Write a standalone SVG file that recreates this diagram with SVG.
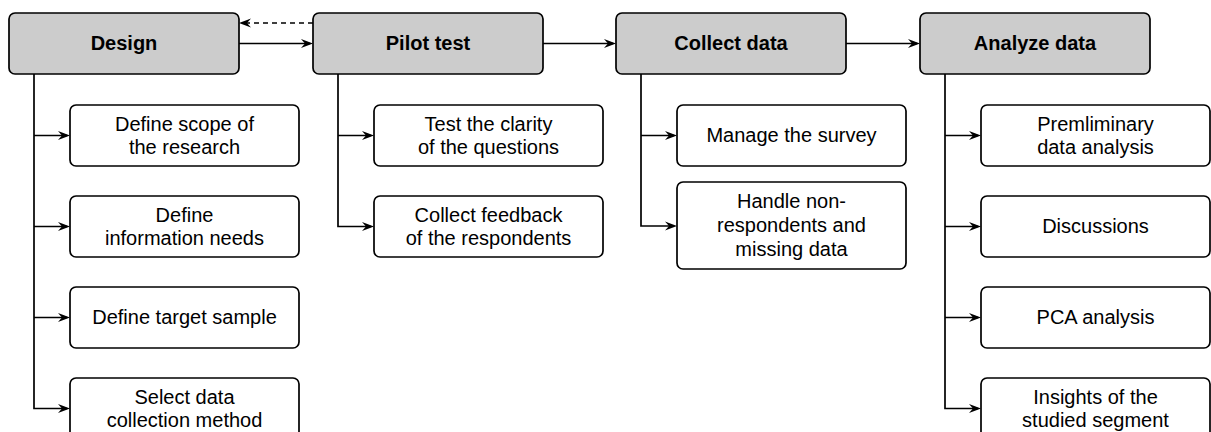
<svg xmlns="http://www.w3.org/2000/svg" width="1211" height="432" viewBox="0 0 1211 432">
<style>
.hdr rect{fill:#cccccc;stroke:#000;stroke-width:1.7}
.hdr text{font-family:"Liberation Sans",Arial,sans-serif;font-size:20px;font-weight:bold;text-anchor:middle;fill:#000}
.sub rect{fill:#fff;stroke:#000;stroke-width:1.7}
.sub text{font-family:"Liberation Sans",Arial,sans-serif;font-size:20px;text-anchor:middle;fill:#000}
.conn path{fill:none;stroke:#000;stroke-width:1.7}
.conn .dash{stroke-dasharray:5 4}
</style>
<defs>
<marker id="arr" viewBox="0 0 12 10" refX="9" refY="5" markerWidth="12" markerHeight="10" markerUnits="userSpaceOnUse" orient="auto">
<path d="M0,0.5 L12,5 L0,9.5 L4,5 z" fill="#000"/>
</marker>
</defs>

<g class="conn" id="connectors">
<path d="M239,43.5 H310" marker-end="url(#arr)"/>
<path d="M543,43.5 H613" marker-end="url(#arr)"/>
<path d="M846,43.5 H917" marker-end="url(#arr)"/>
<path class="dash" d="M313,23 H242" marker-end="url(#arr)"/>
<path d="M34,74 V408.5 H67" marker-end="url(#arr)"/>
<path d="M34,135.5 H67" marker-end="url(#arr)"/>
<path d="M34,226.5 H67" marker-end="url(#arr)"/>
<path d="M34,317.5 H67" marker-end="url(#arr)"/>
<path d="M338,74 V226.5 H371" marker-end="url(#arr)"/>
<path d="M338,135.5 H371" marker-end="url(#arr)"/>
<path d="M641,74 V226 H674" marker-end="url(#arr)"/>
<path d="M641,135.5 H674" marker-end="url(#arr)"/>
<path d="M945,74 V408.5 H978" marker-end="url(#arr)"/>
<path d="M945,135.5 H978" marker-end="url(#arr)"/>
<path d="M945,226.5 H978" marker-end="url(#arr)"/>
<path d="M945,317.5 H978" marker-end="url(#arr)"/>
</g>

<g class="hdr" id="design"><rect x="9" y="13" width="230" height="61" rx="6"/><text x="124" y="50">Design</text></g>
<g class="hdr" id="pilot"><rect x="313" y="13" width="230" height="61" rx="6"/><text x="428" y="50">Pilot test</text></g>
<g class="hdr" id="collect"><rect x="616" y="13" width="230" height="61" rx="6"/><text x="731" y="50">Collect data</text></g>
<g class="hdr" id="analyze"><rect x="920" y="13" width="230" height="61" rx="6"/><text x="1035" y="50">Analyze data</text></g>

<g class="sub" id="d1"><rect x="70" y="105" width="229" height="61" rx="6"/><text x="184.5" y="130.5"><tspan x="184.5">Define scope of</tspan><tspan x="184.5" dy="23.8">the research</tspan></text></g>
<g class="sub" id="d2"><rect x="70" y="196" width="229" height="61" rx="6"/><text x="184.5" y="221.5"><tspan x="184.5">Define</tspan><tspan x="184.5" dy="23.8">information needs</tspan></text></g>
<g class="sub" id="d3"><rect x="70" y="287" width="229" height="61" rx="6"/><text x="184.5" y="324">Define target sample</text></g>
<g class="sub" id="d4"><rect x="70" y="378" width="229" height="61" rx="6"/><text x="184.5" y="403.5"><tspan x="184.5">Select data</tspan><tspan x="184.5" dy="23.8">collection method</tspan></text></g>

<g class="sub" id="p1"><rect x="374" y="105" width="229" height="61" rx="6"/><text x="488.5" y="130.5"><tspan x="488.5">Test the clarity</tspan><tspan x="488.5" dy="23.8">of the questions</tspan></text></g>
<g class="sub" id="p2"><rect x="374" y="196" width="229" height="61" rx="6"/><text x="488.5" y="221.5"><tspan x="488.5">Collect feedback</tspan><tspan x="488.5" dy="23.8">of the respondents</tspan></text></g>

<g class="sub" id="c1"><rect x="677" y="105" width="229" height="61" rx="6"/><text x="791.5" y="142">Manage the survey</text></g>
<g class="sub" id="c2"><rect x="677" y="182" width="229" height="87" rx="6"/><text x="791.5" y="208"><tspan x="791.5">Handle non-</tspan><tspan x="791.5" dy="23.8">respondents and</tspan><tspan x="791.5" dy="23.8">missing data</tspan></text></g>

<g class="sub" id="a1"><rect x="981" y="105" width="229" height="61" rx="6"/><text x="1095.5" y="130.5"><tspan x="1095.5">Premliminary</tspan><tspan x="1095.5" dy="23.8">data analysis</tspan></text></g>
<g class="sub" id="a2"><rect x="981" y="196" width="229" height="61" rx="6"/><text x="1095.5" y="233">Discussions</text></g>
<g class="sub" id="a3"><rect x="981" y="287" width="229" height="61" rx="6"/><text x="1095.5" y="324">PCA analysis</text></g>
<g class="sub" id="a4"><rect x="981" y="378" width="229" height="61" rx="6"/><text x="1095.5" y="403.5"><tspan x="1095.5">Insights of the</tspan><tspan x="1095.5" dy="23.8">studied segment</tspan></text></g>
</svg>
